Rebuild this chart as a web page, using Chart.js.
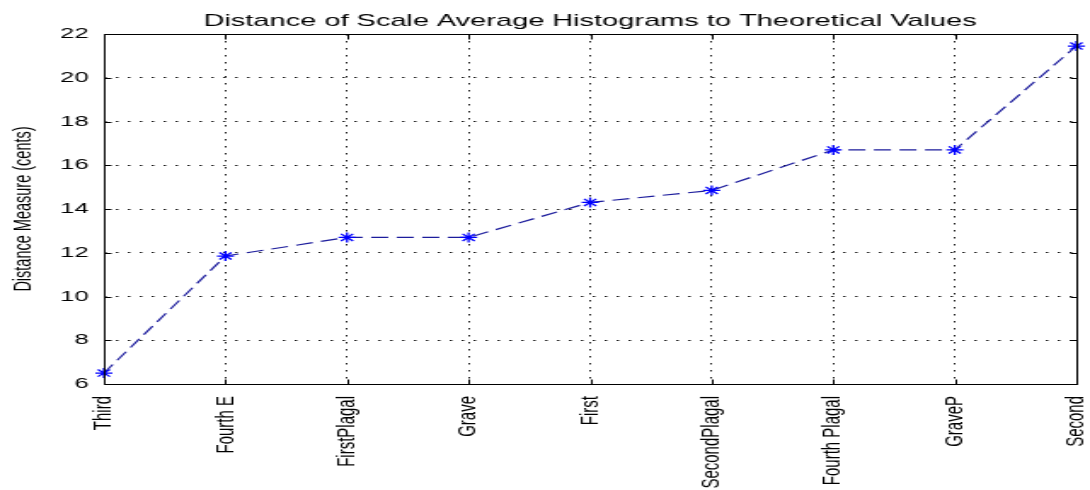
<!DOCTYPE html>
<html>
<head>
<meta charset="utf-8">
<script src="https://cdn.jsdelivr.net/npm/chart.js@4.4.1/dist/chart.umd.min.js"></script>
<style>
  html, body { margin: 0; padding: 0; background: #fff; overflow: hidden; }
  /* the figure is laid out narrow and then widened to the full window */
  #plot { display: block; transform: scaleX(1.703125); transform-origin: 0 0; }
</style>
</head>
<body>
<canvas id="plot" width="640" height="490"></canvas>
<script>
// Scale types, ordered by their distance to the theoretical values
const categories = ['Third', 'Fourth E', 'FirstPlagal', 'Grave', 'First',
                    'SecondPlagal', 'Fourth Plagal', 'GraveP', 'Second'];
// Distance of each scale's average histogram (cents)
const distances = [6.5, 11.85, 12.7, 12.7, 14.3, 14.85, 16.7, 16.7, 21.45];
// Value axis range and tick step
const yMin = 6;
const yMax = 22;
const yStep = 2;

const chartTitle = 'Distance of Scale Average Histograms to Theoretical Values';
const yAxisTitle = 'Distance Measure (cents)';

const FONT = '"Liberation Sans", Arial, sans-serif';

// Title centred over the axes box, plus the box outline and inward tick marks
const axesFrame = {
  id: 'axesFrame',
  afterDraw(chart) {
    const { ctx, chartArea: a, scales } = chart;
    ctx.save();
    ctx.strokeStyle = '#000';
    ctx.lineWidth = 1;
    ctx.setLineDash([]);
    const L = Math.round(a.left) + 0.5, R = Math.round(a.right) + 0.5;
    const T = Math.round(a.top) + 0.5, B = Math.round(a.bottom) + 0.5;
    ctx.strokeRect(L, T, R - L, B - T);
    ctx.beginPath();
    scales.y.ticks.forEach((t) => {
      const y = Math.round(scales.y.getPixelForValue(t.value)) + 0.5;
      ctx.moveTo(L, y); ctx.lineTo(L + 4, y);
      ctx.moveTo(R, y); ctx.lineTo(R - 4, y);
    });
    scales.x.ticks.forEach((t, i) => {
      const x = Math.round(scales.x.getPixelForTick(i)) + 0.5;
      ctx.moveTo(x, B); ctx.lineTo(x, B - 5);
      ctx.moveTo(x, T); ctx.lineTo(x, T + 5);
    });
    ctx.stroke();

    ctx.fillStyle = '#000';
    ctx.font = '17px ' + FONT;
    ctx.textAlign = 'center';
    ctx.textBaseline = 'alphabetic';
    ctx.fillText(chartTitle, (a.left + a.right) / 2, 26);
    ctx.restore();
  }
};

new Chart(document.getElementById('plot'), {
  type: 'line',
  data: {
    labels: categories,
    datasets: [{
      data: distances,
      borderColor: '#1c1c9c',
      borderWidth: 1.2,
      borderDash: [10, 5],
      fill: false,
      tension: 0,
      clip: false,
      pointStyle: 'star',
      pointRadius: 5,
      pointHoverRadius: 5,
      pointBorderColor: '#0000ff',
      pointBorderWidth: 1.3,
      pointBackgroundColor: '#0000ff'
    }]
  },
  options: {
    responsive: false,
    animation: false,
    events: [],
    layout: { padding: { left: 0, right: 8, top: 34, bottom: 0 } },
    plugins: {
      legend: { display: false },
      title: { display: false },
      tooltip: { enabled: false }
    },
    scales: {
      x: {
        type: 'category',
        offset: false,
        grid: { color: '#1a1a1a', lineWidth: 1, drawTicks: false },
        border: { display: false, dash: [1.5, 5.5] },
        ticks: {
          autoSkip: false,
          minRotation: 90,
          maxRotation: 90,
          padding: 12,
          color: '#000',
          font: { family: FONT, size: 15 }
        },
        afterFit(scale) {
          scale.height = 106;
          scale.paddingLeft = 0;
          scale.paddingRight = 0;
        }
      },
      y: {
        min: yMin,
        max: yMax,
        grid: { color: '#1a1a1a', lineWidth: 1, drawTicks: false },
        border: { display: false, dash: [1.5, 5.5] },
        ticks: {
          stepSize: yStep,
          padding: 9,
          color: '#000',
          font: { family: FONT, size: 15 }
        },
        title: {
          display: true,
          text: yAxisTitle,
          color: '#000',
          font: { family: FONT, size: 14.5 },
          padding: { top: 5, bottom: 0 }
        },
        afterFit(scale) {
          scale.width = 61;
          scale.paddingTop = 0;
          scale.paddingBottom = 0;
        }
      }
    }
  },
  plugins: [axesFrame]
});
</script>
</body>
</html>
